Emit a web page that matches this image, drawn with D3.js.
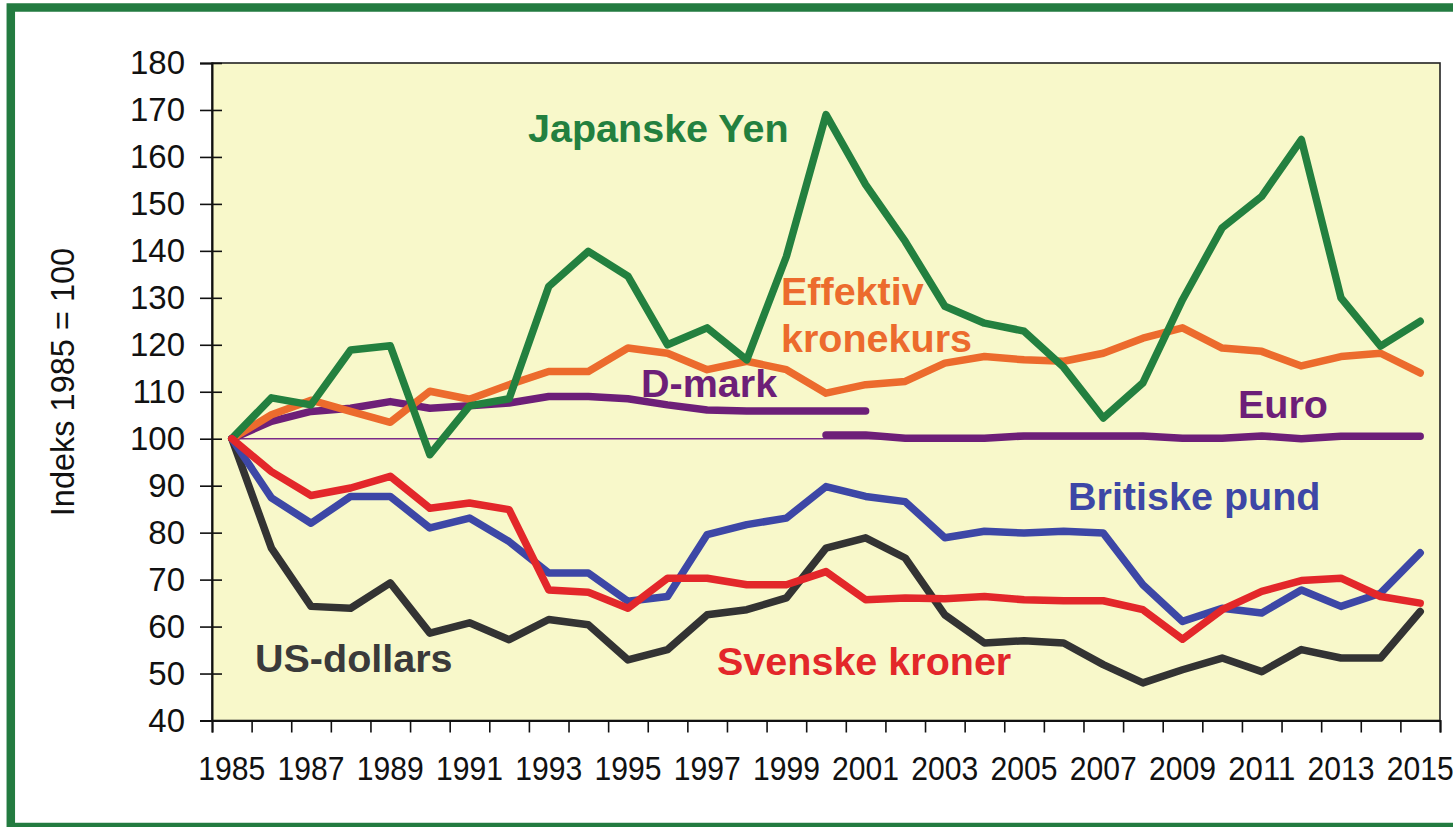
<!DOCTYPE html>
<html>
<head>
<meta charset="utf-8">
<script src="https://cdn.jsdelivr.net/npm/d3@7"></script>
<style>
  body { margin: 0; background: #fff; }
  svg { display: block; font-family: Arial, "Liberation Sans", sans-serif; }
</style>
</head>
<body>
<svg id="chart" width="1453" height="827"></svg>
<script>
// categories
var years = [1985, 1986, 1987, 1988, 1989, 1990, 1991, 1992, 1993, 1994, 1995,
  1996, 1997, 1998, 1999, 2000, 2001, 2002, 2003, 2004, 2005, 2006, 2007,
  2008, 2009, 2010, 2011, 2012, 2013, 2014, 2015];

// tick labels
var yearLabels = [1985, 1987, 1989, 1991, 1993, 1995, 1997, 1999, 2001, 2003,
  2005, 2007, 2009, 2011, 2013, 2015];
var yTicks = [40, 50, 60, 70, 80, 90, 100, 110, 120, 130, 140, 150, 160, 170, 180];

// series (index 1985 = 100)
var yen = [100, 108.7, 107.2, 118.9, 119.8, 96.6, 107, 108.5, 132.4, 139.9, 134.6,
  120, 123.6, 116.8, 138.8, 169, 154.1, 142, 128.2, 124.6, 122.9, 115.2, 104.4,
  111.9, 129.6, 144.9, 151.6, 163.7, 130, 119.7, 125];
var effektiv = [100, 105.1, 108.2, 105.8, 103.5, 110.1, 108.4, 111.5, 114.3, 114.3, 119.3,
  118.2, 114.7, 116.5, 114.7, 109.7, 111.5, 112.2, 116.1, 117.5, 116.8, 116.5, 118.2,
  121.4, 123.6, 119.3, 118.6, 115.5, 117.5, 118.2, 114];
var dmark = [100, 103.7, 105.8, 106.5, 107.9, 106.5, 107, 107.6, 109, 109, 108.5,
  107.2, 106.1, 105.9, 105.9, 105.9, 105.9];
var euroYears = [2000, 2001, 2002, 2003, 2004, 2005, 2006, 2007, 2008, 2009, 2010,
  2011, 2012, 2013, 2014, 2015];
var euro = [100.8, 100.8, 100.1, 100.1, 100.1, 100.6, 100.6, 100.6, 100.6, 100.1, 100.1,
  100.6, 100, 100.5, 100.5, 100.5];
var pund = [100, 87.4, 82, 87.7, 87.7, 81, 83.1, 78.1, 71.4, 71.4, 65.4,
  66.4, 79.6, 81.7, 83.1, 89.8, 87.7, 86.6, 78.9, 80.3, 79.9, 80.3, 79.9,
  68.9, 61.1, 63.9, 62.9, 67.8, 64.3, 67.1, 75.7];
var svenske = [100, 93, 87.9, 89.5, 92, 85.2, 86.3, 84.9, 67.8, 67.3, 63.9,
  70.3, 70.3, 68.9, 68.9, 71.7, 65.7, 66.1, 65.9, 66.4, 65.7, 65.5, 65.5,
  63.6, 57.3, 63.6, 67.5, 69.8, 70.3, 66.4, 65];
var dollar = [100, 76.7, 64.3, 63.9, 69.3, 58.6, 60.8, 57.2, 61.5, 60.4, 52.9,
  55.1, 62.5, 63.6, 66.1, 76.7, 78.9, 74.6, 62.5, 56.5, 57, 56.5, 51.9,
  48, 50.8, 53.3, 50.4, 55.1, 53.3, 53.3, 63.2];

var svg = d3.select("svg#chart");

var plotLeft = 212, plotRight = 1440, plotTop = 63, plotBottom = 720.5;

var x = d3.scaleBand().domain(years).range([plotLeft, plotRight]);
var xEdge = d3.scaleLinear().domain([1985, 2016]).range([plotLeft, plotRight]);
var y = d3.scaleLinear().domain([40, 180]).range([plotBottom, plotTop]);

var cx = function(yr){ return x(yr) + x.bandwidth() / 2; };

// outer green frame
svg.append("rect")
  .attr("x", 10.8).attr("y", 7.5)
  .attr("width", 1470).attr("height", 819.5)
  .attr("fill", "none")
  .attr("stroke", "#237b40")
  .attr("stroke-width", 8.5);

// plot area
svg.append("rect")
  .attr("x", plotLeft).attr("y", plotTop)
  .attr("width", plotRight - plotLeft).attr("height", plotBottom - plotTop)
  .attr("fill", "#f8f8ca")
  .attr("stroke", "#222")
  .attr("stroke-width", 1.6);

// y axis
var yAxis = svg.append("g")
  .attr("transform", "translate(" + plotLeft + ",0)")
  .call(d3.axisLeft(y).tickValues(yTicks).tickSizeOuter(0).tickSize(12).tickPadding(15));
yAxis.select(".domain").attr("stroke", "#111").attr("stroke-width", 2);
yAxis.selectAll(".tick line").attr("x1", 10).attr("stroke", "#111").attr("stroke-width", 1.6);
yAxis.selectAll(".tick text")
  .attr("fill", "#111")
  .style("font-size", "33px");

// x axis: ticks on category edges
var xTicks = svg.append("g")
  .attr("transform", "translate(0," + plotBottom + ")")
  .call(d3.axisBottom(xEdge).tickValues(years.concat([2016])).tickFormat("").tickSizeOuter(0).tickSize(12));
xTicks.select(".domain").attr("stroke", "#111").attr("stroke-width", 2);
xTicks.selectAll(".tick line").attr("stroke", "#111").attr("stroke-width", 1.6);

// x labels centred on categories
var xLabels = svg.append("g")
  .attr("transform", "translate(0," + plotBottom + ")")
  .call(d3.axisBottom(x).tickValues(yearLabels).tickSize(0));
xLabels.select(".domain").remove();
xLabels.selectAll(".tick text")
  .attr("y", 36)
  .attr("fill", "#111")
  .attr("textLength", 67)
  .attr("lengthAdjust", "spacingAndGlyphs")
  .style("font-size", "33px");

// y title
svg.append("text")
  .attr("transform", "translate(73.5,382) rotate(-90)")
  .attr("text-anchor", "middle")
  .attr("fill", "#111")
  .style("font-size", "32.5px")
  .text("Indeks 1985 = 100");

// thin reference line at 100
svg.append("line")
  .attr("x1", cx(1985)).attr("x2", cx(2015))
  .attr("y1", y(100)).attr("y2", y(100))
  .attr("stroke", "#7a2a88")
  .attr("stroke-width", 1.5);

var line = d3.line()
  .x(d => cx(d[0]))
  .y(d => y(d[1]));

var series = [
  {name: "dmark", color: "#6d1f78", data: dmark.map((v, i) => [years[i], v])},
  {name: "euro", color: "#6d1f78", data: euro.map((v, i) => [euroYears[i], v])},
  {name: "effektiv", color: "#ec6b2d", data: effektiv.map((v, i) => [years[i], v])},
  {name: "yen", color: "#23803f", data: yen.map((v, i) => [years[i], v])},
  {name: "dollar", color: "#333333", data: dollar.map((v, i) => [years[i], v])},
  {name: "pund", color: "#3d47a6", data: pund.map((v, i) => [years[i], v])},
  {name: "svenske", color: "#e3272a", data: svenske.map((v, i) => [years[i], v])}
];

svg.selectAll("path.series")
  .data(series)
  .enter().append("path")
  .attr("class", "series")
  .attr("d", d => line(d.data))
  .attr("fill", "none")
  .attr("stroke", d => d.color)
  .attr("stroke-width", 7.5)
  .attr("stroke-linejoin", "round")
  .attr("stroke-linecap", "round");

// series labels
var labels = [
  {text: "Japanske Yen", x: 528, y: 141.5, color: "#23803f"},
  {text: "Effektiv", x: 781, y: 305, color: "#ec6b2d"},
  {text: "kronekurs", x: 781, y: 351.5, color: "#ec6b2d"},
  {text: "D-mark", x: 641, y: 396.5, color: "#6d1f78"},
  {text: "Euro", x: 1238, y: 418, color: "#6d1f78"},
  {text: "Britiske pund", x: 1068, y: 510, color: "#3d47a6"},
  {text: "US-dollars", x: 255, y: 671.5, color: "#3a3a3a"},
  {text: "Svenske kroner", x: 717, y: 675, color: "#e3272a"}
];

svg.selectAll("text.seriesLabel")
  .data(labels)
  .enter().append("text")
  .attr("class", "seriesLabel")
  .attr("x", d => d.x)
  .attr("y", d => d.y)
  .attr("fill", d => d.color)
  .style("font-size", "39.5px")
  .style("font-weight", "bold")
  .text(d => d.text);
</script>
</body>
</html>
